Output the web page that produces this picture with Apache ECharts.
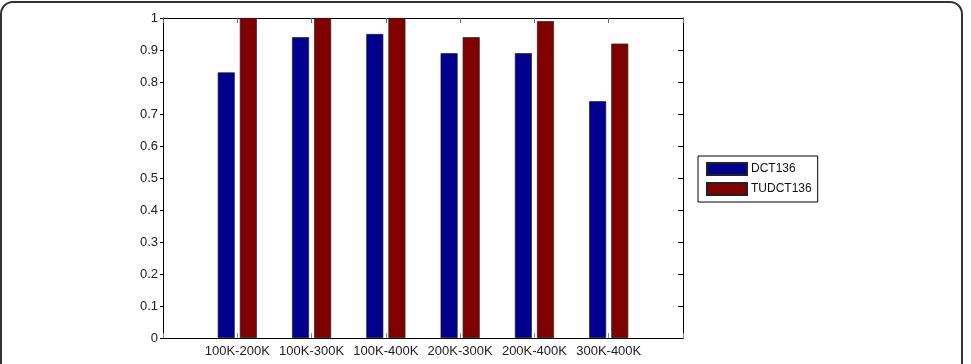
<!DOCTYPE html>
<html>
<head>
<meta charset="utf-8">
<script src="https://cdn.jsdelivr.net/npm/echarts@6/dist/echarts.min.js"></script>
<style>
  html, body { margin: 0; padding: 0; background: #fff; }
  #chart { width: 971px; height: 364px; }
</style>
</head>
<body>
<div id="chart"></div>
<script>
// category labels sit on x = 1..6, axis runs 0..7 like the matlab plot
const categories = ['100K-200K', '100K-300K', '100K-400K', '200K-300K', '200K-400K', '300K-400K'];
const dct136 = [0.83, 0.94, 0.95, 0.89, 0.89, 0.74];
const tudct136 = [1.0, 1.0, 1.0, 0.94, 0.99, 0.92];
const yTicks = [0, 0.1, 0.2, 0.3, 0.4, 0.5, 0.6, 0.7, 0.8, 0.9, 1];

const chart = echarts.init(document.getElementById('chart'), null, { renderer: 'canvas' });

const font = 'Liberation Sans, Arial, Helvetica, sans-serif';
const toPoints = arr => arr.map((v, i) => [i + 1, v]);

const option = {
  animation: false,
  backgroundColor: '#fff',
  textStyle: { fontFamily: font },
  grid: { left: 163, right: 288, top: 18, bottom: 26, containLabel: false },
  xAxis: [
    {
      type: 'value', min: 0, max: 7, interval: 1,
      axisLine: { show: true, onZero: false, lineStyle: { color: '#000', width: 1 } },
      axisTick: { show: true, inside: true, length: 5, lineStyle: { color: '#888' } },
      splitLine: { show: false },
      axisLabel: {
        color: '#222', fontSize: 13, margin: 7,
        formatter: v => categories[v - 1] || ''
      }
    },
    {
      type: 'value', position: 'top', min: 0, max: 7, interval: 1,
      axisLine: { show: true, onZero: false, lineStyle: { color: '#000', width: 1 } },
      axisTick: { show: true, inside: true, length: 5, lineStyle: { color: '#666' } },
      axisLabel: { show: false },
      splitLine: { show: false }
    }
  ],
  yAxis: [
    {
      type: 'value', min: 0, max: 1, interval: 0.1,
      axisLine: { show: true, onZero: false, lineStyle: { color: '#000', width: 1 } },
      axisTick: { show: true, length: 3, lineStyle: { color: '#000' } },
      splitLine: { show: false },
      axisLabel: {
        color: '#222', fontSize: 13, margin: 5,
        formatter: v => {
          const t = yTicks.find(x => Math.abs(x - v) < 1e-6);
          return t === undefined ? '' : String(t);
        }
      }
    },
    {
      type: 'value', position: 'right', min: 0, max: 1, interval: 0.1,
      axisLine: { show: true, onZero: false, lineStyle: { color: '#000', width: 1 } },
      axisTick: { show: true, inside: true, length: 5, lineStyle: { color: '#000' } },
      axisLabel: { show: false },
      splitLine: { show: false }
    }
  ],
  legend: {
    orient: 'vertical',
    left: 698, top: 156,
    padding: [6, 6, 6, 8],
    itemWidth: 40, itemHeight: 12, itemGap: 6,
    icon: 'rect',
    borderColor: '#000', borderWidth: 1,
    textStyle: { color: '#111', fontSize: 12, fontFamily: font, padding: [0, 0, 0, -1] },
    data: ['DCT136', 'TUDCT136']
  },
  series: [
    {
      name: 'DCT136', type: 'bar',
      data: toPoints(dct136),
      barWidth: 17, barGap: '30%',
      itemStyle: { color: '#00008f', borderColor: '#222', borderWidth: 0.7 }
    },
    {
      name: 'TUDCT136', type: 'bar',
      data: toPoints(tudct136),
      barWidth: 17, barGap: '30%',
      itemStyle: { color: '#800000', borderColor: '#222', borderWidth: 0.7 }
    }
  ],
  graphic: [
    {
      type: 'rect', silent: true, z: 100,
      shape: { x: 1, y: 2, width: 961, height: 420, r: 12 },
      style: { fill: 'none', stroke: '#333', lineWidth: 2 }
    }
  ]
};

chart.setOption(option);
</script>
</body>
</html>
